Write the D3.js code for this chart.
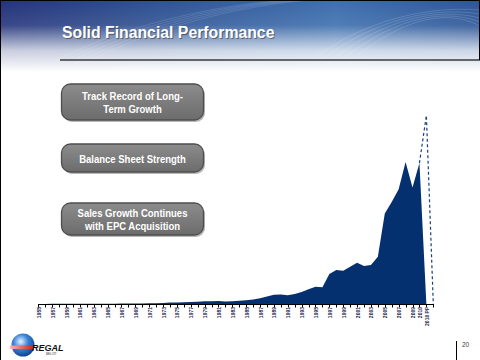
<!DOCTYPE html>
<html>
<head>
<meta charset="utf-8">
<script src="https://cdn.jsdelivr.net/npm/d3@7"></script>
<style>
  html, body { margin: 0; padding: 0; background: #fff; }
  svg { display: block; }
</style>
</head>
<body>
<div id="chart"></div>
<script>
// sales history, $ millions
const years = d3.range(1955, 2011).map(String);
const salesValues = [
  1, 1, 2, 2, 2, 2, 3, 3, 3, 4,          // 1955-1964
  4, 5, 6, 7, 8, 9, 11, 13, 16, 22,      // 1965-1974
  24, 27, 32, 37, 44, 43, 47, 40, 44, 52,// 1975-1984
  58, 70, 90, 120, 145, 150, 140, 160, 190, 232, // 1985-1994
  273, 264, 474, 537, 526, 589, 652, 600, 616, 747, // 1995-2004
  1432, 1616, 1816, 2247, 1843, 2231     // 2005-2010
];
const proFormaCats = ["2010", "2010 PF", ""];
const proFormaValues = [2231, 2985, 0];
const categories = years.concat(["2010 PF", ""]);
const tickLabels = d3.range(1955, 2010, 2).map(String).concat(["2010", "2010 PF"]);
const buttons = [
  ["Track Record of Long-", "Term Growth"],
  ["Balance Sheet Strength"],
  ["Sales Growth Continues", "with EPC Acquisition"]
];
const slideTitle = "Solid Financial Performance";
const pageNumber = "20";

const width = 480, height = 360;
const svg = d3.select("#chart").append("svg")
  .attr("width", width).attr("height", height);

const defs = svg.append("defs");

// header banner
const hg = defs.append("linearGradient").attr("id", "hdrH")
  .attr("x1", 0).attr("x2", 1).attr("y1", 0).attr("y2", 0);
hg.append("stop").attr("offset", "0").attr("stop-color", "#24337a");
hg.append("stop").attr("offset", "0.35").attr("stop-color", "#2f5494");
hg.append("stop").attr("offset", "0.7").attr("stop-color", "#3d6fae");
hg.append("stop").attr("offset", "1").attr("stop-color", "#2c5596");

const vg = defs.append("linearGradient").attr("id", "hdrV")
  .attr("x1", 0).attr("x2", 0).attr("y1", 0).attr("y2", 1);
vg.append("stop").attr("offset", "0").attr("stop-color", "#fff").attr("stop-opacity", 0);
vg.append("stop").attr("offset", "0.35").attr("stop-color", "#fff").attr("stop-opacity", 0.1);
vg.append("stop").attr("offset", "0.7").attr("stop-color", "#fff").attr("stop-opacity", 0.75);
vg.append("stop").attr("offset", "1").attr("stop-color", "#fff").attr("stop-opacity", 1);

svg.append("rect").attr("x", 0).attr("y", 0).attr("width", width).attr("height", 72)
  .attr("fill", "url(#hdrH)");
// faint swirl lines
const swirl = svg.append("g").attr("fill", "none").attr("stroke", "#ffffff");
[0, 1, 2, 3, 4].forEach(k => {
  swirl.append("path")
    .attr("d", `M${40 + k * 8},70 C${120 + k * 10},20 ${260 + k * 6},-5 ${330 + k * 6},0`)
    .attr("stroke-opacity", 0.12);
  swirl.append("path")
    .attr("d", `M${300 + k * 10},70 C${350 + k * 10},25 ${420 + k * 5},5 ${480},${10 + k * 4}`)
    .attr("stroke-opacity", 0.15);
});
svg.append("rect").attr("x", 0).attr("y", 0).attr("width", width).attr("height", 72)
  .attr("fill", "url(#hdrV)");

// title with drop shadow
svg.append("text").attr("x", 63).attr("y", 38.5)
  .attr("font-family", "Liberation Sans, Arial, sans-serif")
  .attr("font-weight", "bold").attr("font-size", 15.8)
  .attr("fill", "#3a3a3a").attr("opacity", 0.6).text(slideTitle);
svg.append("text").attr("x", 62).attr("y", 37.5)
  .attr("font-family", "Liberation Sans, Arial, sans-serif")
  .attr("font-weight", "bold").attr("font-size", 15.8)
  .attr("fill", "#fff").text(slideTitle);

svg.append("line").attr("x1", 60).attr("x2", 480).attr("y1", 60).attr("y2", 60)
  .attr("stroke", "#3a3a3a").attr("stroke-width", 1.3);

// slide border
svg.append("path").attr("d", "M0.5,360 V0.5 H479.5 V60")
  .attr("fill", "none").attr("stroke", "#000");

// buttons
const bg = defs.append("linearGradient").attr("id", "btn")
  .attr("x1", 0).attr("x2", 0).attr("y1", 0).attr("y2", 1);
bg.append("stop").attr("offset", "0").attr("stop-color", "#8c8c8c");
bg.append("stop").attr("offset", "1").attr("stop-color", "#6c6c6c");

const btnY = [84, 144, 203];
const btnH = [36, 28, 32];
buttons.forEach((lines, i) => {
  const g = svg.append("g");
  g.append("rect").attr("x", 63).attr("y", btnY[i] + 2).attr("width", 142).attr("height", btnH[i])
    .attr("rx", 9).attr("fill", "#b8b8b8");
  g.append("rect").attr("x", 61.5).attr("y", btnY[i]).attr("width", 142).attr("height", btnH[i])
    .attr("rx", 9).attr("fill", "url(#btn)").attr("stroke", "#4e4e4e").attr("stroke-width", 1.3);
  const cy = btnY[i] + btnH[i] / 2;
  lines.forEach((t, j) => {
    const ty = cy + 4.5 + (j - (lines.length - 1) / 2) * 12.7;
    g.append("text")
      .attr("transform", `translate(132.5,${ty}) scale(0.85,1)`)
      .attr("text-anchor", "middle")
      .attr("font-family", "Liberation Sans, Arial, sans-serif")
      .attr("font-weight", "bold").attr("font-size", 11.2)
      .attr("fill", "#fff").text(t);
  });
});

// chart
const x = d3.scalePoint().domain(categories).range([38.3, 433.3]);
const y = d3.scaleLinear().domain([0, 3000]).range([304, 114.5]);

const areaData = salesValues.concat([0]).map((v, i) => ({ cat: categories[i], v }));
const area = d3.area().x(d => x(d.cat)).y0(y(0)).y1(d => y(d.v));
svg.append("path").datum(areaData).attr("d", area).attr("fill", "#04306f");

const pf = proFormaCats.map((c, i) => ({ cat: c, v: proFormaValues[i] }));
svg.append("path").datum(pf)
  .attr("d", d3.line().x(d => x(d.cat)).y(d => y(d.v)))
  .attr("fill", "none").attr("stroke", "#1a3f80").attr("stroke-width", 1.2)
  .attr("stroke-dasharray", "3,2.5");

// axis
const axis = svg.append("g");
axis.append("line").attr("x1", x(categories[0])).attr("x2", x(categories[categories.length - 1]))
  .attr("y1", 304.5).attr("y2", 304.5).attr("stroke", "#000");
axis.selectAll(".tick").data(categories).join("line")
  .attr("class", "tick")
  .attr("x1", d => Math.round(x(d)) + 0.5).attr("x2", d => Math.round(x(d)) + 0.5)
  .attr("y1", 304).attr("y2", 307.5).attr("stroke", "#000");
axis.selectAll(".lbl").data(tickLabels).join("text")
  .attr("class", "lbl")
  .attr("transform", d => `translate(${x(d) + 2.5},307) rotate(-90)`)
  .attr("text-anchor", "end")
  .attr("font-family", "Liberation Sans, Arial, sans-serif")
  .attr("font-size", 5).attr("font-weight", "bold")
  .attr("fill", "#1c1c50").text(d => d);

// footer logo
const lg = defs.append("radialGradient").attr("id", "globe")
  .attr("cx", "0.4").attr("cy", "0.35").attr("r", "0.7");
lg.append("stop").attr("offset", "0").attr("stop-color", "#e8f2ff");
lg.append("stop").attr("offset", "0.45").attr("stop-color", "#3a86d8");
lg.append("stop").attr("offset", "1").attr("stop-color", "#0a3c8c");
svg.append("circle").attr("cx", 23).attr("cy", 345).attr("r", 11.5).attr("fill", "url(#globe)");
const rg = defs.append("linearGradient").attr("id", "stripe")
  .attr("x1", 0).attr("x2", 1).attr("y1", 0).attr("y2", 0);
rg.append("stop").attr("offset", "0").attr("stop-color", "#f4b8b8");
rg.append("stop").attr("offset", "1").attr("stop-color", "#d42020");
svg.append("rect").attr("x", 10).attr("y", 345.5).attr("width", 23).attr("height", 3.5).attr("fill", "url(#stripe)");
svg.append("text").attr("x", 32).attr("y", 350.5)
  .attr("font-family", "Liberation Sans, Arial, sans-serif").attr("font-weight", "bold")
  .attr("font-style", "italic").attr("font-size", 9).attr("fill", "#111").text("REGAL");
svg.append("text").attr("x", 46).attr("y", 354.5)
  .attr("font-family", "Liberation Sans, Arial, sans-serif")
  .attr("font-size", 3).attr("fill", "#333").text("BELOIT");

svg.append("line").attr("x1", 456.5).attr("x2", 456.5).attr("y1", 341).attr("y2", 360)
  .attr("stroke", "#000");
svg.append("text").attr("x", 462).attr("y", 347)
  .attr("font-family", "Liberation Sans, Arial, sans-serif")
  .attr("font-size", 6.5).attr("fill", "#444").text(pageNumber);
</script>
</body>
</html>
